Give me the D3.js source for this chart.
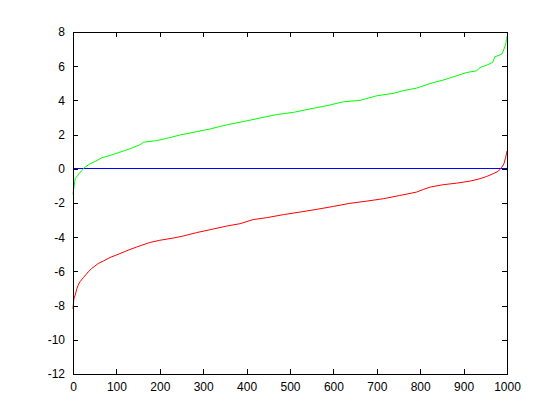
<!DOCTYPE html>
<html>
<head>
<meta charset="utf-8">
<script src="https://cdn.jsdelivr.net/npm/d3@7"></script>
<style>
  body { margin: 0; background: #fff; }
  text { font-family: "Liberation Sans", Arial, sans-serif; font-size: 12px; fill: #000; }
</style>
</head>
<body>
<div id="chart"></div>
<script>
// values (index along x, value along y)
var upperIdx = [0, 1, 5, 9, 14, 20, 28, 39, 51, 66, 85, 108, 131, 154, 162, 193, 216, 247, 285, 316,
                354, 392, 431, 469, 508, 546, 585, 623, 661, 700, 738, 761, 792, 823, 853, 884, 907, 930,
                938, 953, 967, 972, 984, 989, 993, 997, 999, 1000];
var upperVal = [-1.5, -1.3, -0.58, -0.45, -0.29, -0.1, 0.1, 0.29, 0.43, 0.64, 0.78, 0.97, 1.17, 1.4, 1.55, 1.65, 1.78, 1.98, 2.17, 2.33,
                2.57, 2.76, 2.97, 3.17, 3.30, 3.50, 3.69, 3.92, 4.0, 4.27, 4.41, 4.57, 4.72, 4.99, 5.19, 5.44, 5.63, 5.73,
                5.92, 6.06, 6.22, 6.55, 6.66, 6.74, 7.0, 7.29, 7.58, 7.75];

var lowerIdx = [0, 2, 5, 9, 12, 16, 24, 35, 43, 58, 70, 85, 108, 127, 147, 177, 200, 231, 254, 285, 316,
                354, 385, 415, 446, 485, 523, 562, 600, 638, 677, 715, 753, 792, 807, 823, 853, 884, 915,
                938, 953, 968, 980, 988, 993, 997, 999, 1000];
var lowerVal = [-8.2, -7.6, -7.39, -7.0, -6.8, -6.61, -6.36, -6.03, -5.83, -5.54, -5.39, -5.19, -4.96, -4.76, -4.57, -4.31, -4.18, -4.05, -3.93, -3.73, -3.56,
                -3.35, -3.21, -2.97, -2.86, -2.68, -2.53, -2.37, -2.20, -2.02, -1.89, -1.75, -1.56, -1.36, -1.21, -1.07, -0.93, -0.84, -0.72,
                -0.58, -0.45, -0.29, -0.14, 0.09, 0.29, 0.68, 0.93, 1.05];

var baseIdx = [0, 1000];
var baseVal = [0, 0];

var xTicks = [0, 100, 200, 300, 400, 500, 600, 700, 800, 900, 1000];
var yTicks = [-12, -10, -8, -6, -4, -2, 0, 2, 4, 6, 8];

//////////////////////////////////////////////////////////////////////////////
// setup

var width = 560, height = 420;
var mLeft = 73, mRight = 507, mTop = 32, mBottom = 374;

var xScale = d3.scaleLinear().domain([0, 1000]).range([mLeft, mRight]);
var yScale = d3.scaleLinear().domain([-12, 8]).range([mBottom, mTop]);

var svg = d3.select("#chart")
    .append("svg")
    .attr("width", width)
    .attr("height", height);

function pairs(idx, val) {
    return idx.map(function(d, i) { return [d, val[i]]; });
}

var line = d3.line()
    .x(function(d) { return xScale(d[0]); })
    .y(function(d) { return yScale(d[1]); });

//////////////////////////////////////////////////////////////////////////////
// curves

svg.append("path")
    .attr("d", line(pairs(baseIdx, baseVal)))
    .attr("fill", "none")
    .attr("stroke", "#0000ff")
    .attr("stroke-width", 1)
    .attr("shape-rendering", "crispEdges");

svg.append("path")
    .attr("d", line(pairs(upperIdx, upperVal)))
    .attr("fill", "none")
    .attr("stroke", "#00ff00")
    .attr("stroke-width", 1);

svg.append("path")
    .attr("d", line(pairs(lowerIdx, lowerVal)))
    .attr("fill", "none")
    .attr("stroke", "#ff0000")
    .attr("stroke-width", 1);

//////////////////////////////////////////////////////////////////////////////
// axes (box with inward ticks on all four sides)

var tick = 5;
var fmt = function(d) { return String(d); };   // plain hyphen minus, no thousands comma

svg.append("g")
    .attr("transform", "translate(0," + mBottom + ")")
    .call(d3.axisBottom(xScale).tickValues(xTicks).tickSizeInner(-tick).tickSizeOuter(0).tickPadding(8).tickFormat(fmt));

svg.append("g")
    .attr("transform", "translate(0," + mTop + ")")
    .call(d3.axisTop(xScale).tickValues(xTicks).tickSizeInner(-tick).tickSizeOuter(0).tickFormat(""));

svg.append("g")
    .attr("transform", "translate(" + mLeft + ",0)")
    .call(d3.axisLeft(yScale).tickValues(yTicks).tickSizeInner(-tick).tickSizeOuter(0).tickPadding(8).tickFormat(fmt));

svg.append("g")
    .attr("transform", "translate(" + mRight + ",0)")
    .call(d3.axisRight(yScale).tickValues(yTicks).tickSizeInner(-tick).tickSizeOuter(0).tickFormat(""));

svg.selectAll(".tick text")
    .attr("font-family", "Liberation Sans, Arial, sans-serif")
    .attr("font-size", 12)
    .attr("fill", "#000");

svg.selectAll(".domain, .tick line")
    .attr("stroke", "#000")
    .attr("shape-rendering", "crispEdges");
</script>
</body>
</html>
